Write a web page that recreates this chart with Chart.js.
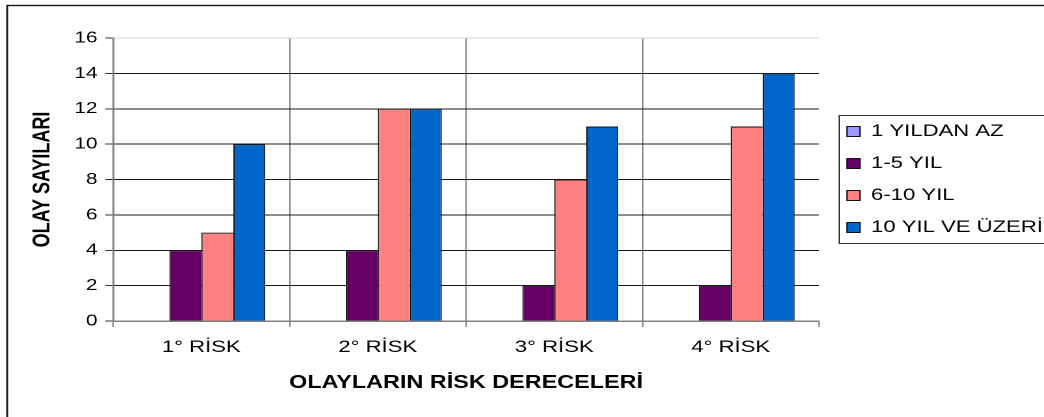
<!DOCTYPE html>
<html><head><meta charset="utf-8">
<script src="https://cdn.jsdelivr.net/npm/chart.js@4/dist/chart.umd.min.js"></script>
<style>
html,body{margin:0;padding:0;background:#fff;overflow:hidden;width:1044px;height:417px;}
#wrap{position:absolute;left:0;top:0;width:803px;height:417px;transform:scaleX(1.3);transform-origin:0 0;}
</style></head><body>
<div id="wrap"><canvas id="c"></canvas></div>
<script>
const categories = ['1° RİSK', '2° RİSK', '3° RİSK', '4° RİSK'];
const seriesNames = ['1 YILDAN AZ', '1-5 YIL', '6-10 YIL', '10 YIL VE ÜZERİ'];
const lessThan1Year = [0, 0, 0, 0];
const years1to5 = [4, 4, 2, 2];
const years6to10 = [5, 12, 8, 11];
const years10plus = [10, 12, 11, 14];
const yTickValues = [0, 2, 4, 6, 8, 10, 12, 14, 16];
const seriesColors = ['#9999FF', '#660066', '#FF8080', '#0066CC'];

Chart.defaults.font.family = '"Liberation Sans", Arial, sans-serif';
Chart.defaults.color = '#000';

const LEGEND_SHIFT = 6.5;
const frame = {
  id: 'frame',
  afterLayout(chart) {
    const lg = chart.legend;
    if (lg) { lg.left += LEGEND_SHIFT; lg.right += LEGEND_SHIFT; }
  },
  afterDraw(chart) {
    const ctx = chart.ctx;
    ctx.save();
    ctx.strokeStyle = '#222';
    ctx.lineWidth = 1.5;
    ctx.strokeRect(5.5, 5.5, chart.width + 20, chart.height + 20);
    const lg = chart.legend, hb = lg.legendHitBoxes;
    if (hb && hb.length) {
      const top = hb[0].top - 8;
      const last = hb[hb.length - 1];
      const bottom = last.top + last.height + 7;
      const left = lg.left + lg.options.labels.padding - 7;
      ctx.lineWidth = 1;
      ctx.strokeStyle = '#333';
      ctx.strokeRect(Math.round(left) + 0.5, Math.round(top) + 0.5, chart.width + 20, Math.round(bottom - top));
    }
    ctx.restore();
  }
};

const inner = {top: 1, left: 1, right: 0, bottom: 0};
const outer = {top: 1, left: 1, right: 1, bottom: 0};
const seriesData = [lessThan1Year, years1to5, years6to10, years10plus];

new Chart(document.getElementById('c'), {
  type: 'bar',
  data: {
    labels: categories,
    datasets: seriesNames.map((name, i) => ({
      label: name,
      data: seriesData[i],
      backgroundColor: seriesColors[i],
      borderColor: '#111',
      borderWidth: i === 3 ? outer : inner,
      categoryPercentage: 0.725,
      barPercentage: 1
    }))
  },
  options: {
    responsive: true,
    maintainAspectRatio: false,
    devicePixelRatio: 2,
    animation: false,
    layout: {padding: {top: 38, left: 0, right: 0, bottom: 0}},
    scales: {
      x: {
        afterFit: s => { s.height = 96; },
        grid: {
          offset: true,
          color: c => (c.index === undefined ? 'rgba(0,0,0,0)' : '#808080'),
          tickColor: '#808080',
          tickLength: 6,
          lineWidth: 1
        },
        border: {color: '#808080', width: 1.5},
        ticks: {font: {size: 17}, color: '#000', padding: 10},
        title: {display: true, text: 'OLAYLARIN RİSK DERECELERİ', font: {size: 18, weight: 'bold'}, color: '#000', padding: {top: 0, bottom: 23}}
      },
      y: {
        min: 0, max: 16,
        afterBuildTicks: s => { s.ticks = yTickValues.map(v => ({value: v})); },
        afterFit: s => { s.width = 87; },
        grid: {
          color: c => (c.tick && c.tick.value === 16 ? '#d6d6d6' : '#1a1a1a'),
          tickColor: '#333',
          tickLength: 6,
          lineWidth: 1
        },
        border: {color: '#808080', width: 1.5},
        ticks: {font: {size: 16}, color: '#000', padding: 6},
        title: {display: true, text: 'OLAY SAYILARI', font: {size: 18, weight: 'bold'}, color: '#000', padding: {top: 22, bottom: 0}}
      }
    },
    plugins: {
      tooltip: {enabled: false},
      legend: {
        position: 'right',
        fullSize: false,
        maxWidth: 173,
        align: 'center',
        labels: {
          boxWidth: 10, boxHeight: 10, padding: 15,
          font: {size: 17}, color: '#000',
          generateLabels: chart => Chart.defaults.plugins.legend.labels.generateLabels(chart).map(l => Object.assign(l, {lineWidth: 1}))
        }
      }
    }
  },
  plugins: [frame]
});
</script>
</body></html>
